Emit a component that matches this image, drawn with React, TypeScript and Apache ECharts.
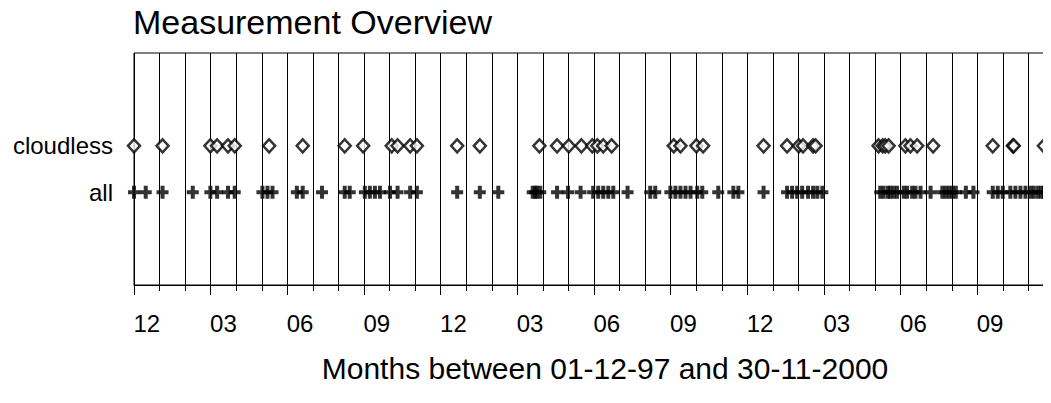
import { useEffect, useRef } from "react";
import * as echarts from "echarts";

// Month labels (Dec 1997 .. Nov 2000), one per monthly band
const monthLabels = [
  "12", "01", "02", "03", "04", "05", "06", "07", "08", "09", "10", "11",
  "12", "01", "02", "03", "04", "05", "06", "07", "08", "09", "10", "11",
  "12", "01", "02", "03", "04", "05", "06", "07", "08", "09", "10", "11",
];
const totalDays = 1096; // 01-12-97 .. 30-11-2000 inclusive

// Measurement days, counted from 01-12-1997
const cloudlessDays = [
  0, 34, 91, 99, 112, 120, 161, 201, 251, 273, 307, 314, 329, 337, 385, 412,
  483, 504, 518, 533, 546, 552, 559, 569, 643, 651, 670, 678, 750, 778, 792,
  797, 809, 812, 887, 892, 895, 899, 919, 925, 933, 952, 1023, 1047, 1048, 1084,
];
const allDays = [
  0, 14, 34, 70, 91, 99, 112, 120, 153, 159, 165, 194, 201, 224, 251, 257,
  275, 281, 287, 293, 305, 314, 329, 337, 385, 412, 434, 475, 478, 480, 484,
  504, 517, 532, 547, 553, 559, 565, 571, 588, 615, 621, 639, 645, 651, 657,
  663, 671, 677, 696, 714, 720, 750, 778, 784, 790, 796, 803, 809, 814, 820,
  889, 893, 898, 901, 905, 909, 917, 921, 927, 931, 937, 949, 963, 967, 971,
  975, 979, 991, 1000, 1023, 1029, 1035, 1044, 1050, 1056, 1062, 1068, 1072,
  1077, 1081, 1084, 1089, 1093,
];
const rowLabels: Record<number, string> = { 2: "all", 3: "cloudless" };
const titleText = "Measurement Overview";
const axisTitle = "Months between 01-12-97 and 30-11-2000";

const plusPath = "path://M4,0H8V4.5H12V8.5H8V13H4V8.5H0V4.5H4Z";

export default function App() {
  const ref = useRef<HTMLDivElement>(null);
  useEffect(() => {
    const chart = echarts.init(ref.current!, null, { renderer: "svg" });
    const font = "'Liberation Sans', Arial, sans-serif";
    chart.setOption({
      animation: false,
      title: {
        text: titleText,
        left: 133,
        top: 5,
        padding: 0,
        textStyle: { fontSize: 34, fontWeight: "normal", color: "#000", fontFamily: font },
      },
      grid: {
        left: 134, top: 53, right: 14, bottom: 118,
        show: true, borderColor: "#000", borderWidth: 1, containLabel: false,
      },
      xAxis: [
        { type: "value", min: 0, max: totalDays, show: false },
        {
          type: "category", data: monthLabels, position: "bottom", boundaryGap: true,
          axisLine: { show: true, lineStyle: { color: "#000", width: 1 } },
          axisTick: { show: true, interval: 0, length: 6, lineStyle: { color: "#000" } },
          splitLine: { show: true, interval: 0, lineStyle: { color: "#000", width: 1 } },
          axisLabel: { interval: 2, margin: 26, fontSize: 24, color: "#000", fontFamily: font },
        },
        {
          type: "category", data: monthLabels, position: "bottom", boundaryGap: true,
          axisLine: { show: false },
          axisTick: { show: true, interval: 2, length: 10, lineStyle: { color: "#000" } },
          axisLabel: { show: false }, splitLine: { show: false },
        },
      ],
      yAxis: {
        type: "value", min: 0, max: 5, interval: 1,
        axisLine: { show: false }, axisTick: { show: false }, splitLine: { show: false },
        axisLabel: {
          formatter: (v: number) => rowLabels[v] ?? "",
          margin: 21, fontSize: 24, color: "#000", fontFamily: font,
        },
      },
      graphic: [
        {
          type: "text", x: 605, y: 368,
          style: {
            text: axisTitle, fontSize: 30, fontFamily: font, fill: "#000",
            textAlign: "center", textVerticalAlign: "middle",
          },
        },
      ],
      series: [
        {
          type: "scatter", xAxisIndex: 0, data: allDays.map((d) => [d, 2]),
          symbol: plusPath, symbolSize: [12, 13], itemStyle: { color: "#000" },
        },
        {
          type: "scatter", xAxisIndex: 0, data: cloudlessDays.map((d) => [d, 3]),
          symbol: "diamond", symbolSize: [12, 13],
          itemStyle: { color: "#fff", borderColor: "#000", borderWidth: 2.5 },
        },
      ],
    });
    return () => chart.dispose();
  }, []);
  return (
    <div style={{ width: 1051, marginTop: -8, marginLeft: -8, overflow: "hidden" }}>
      <div ref={ref} style={{ width: 1068, height: 403 }} />
    </div>
  );
}
